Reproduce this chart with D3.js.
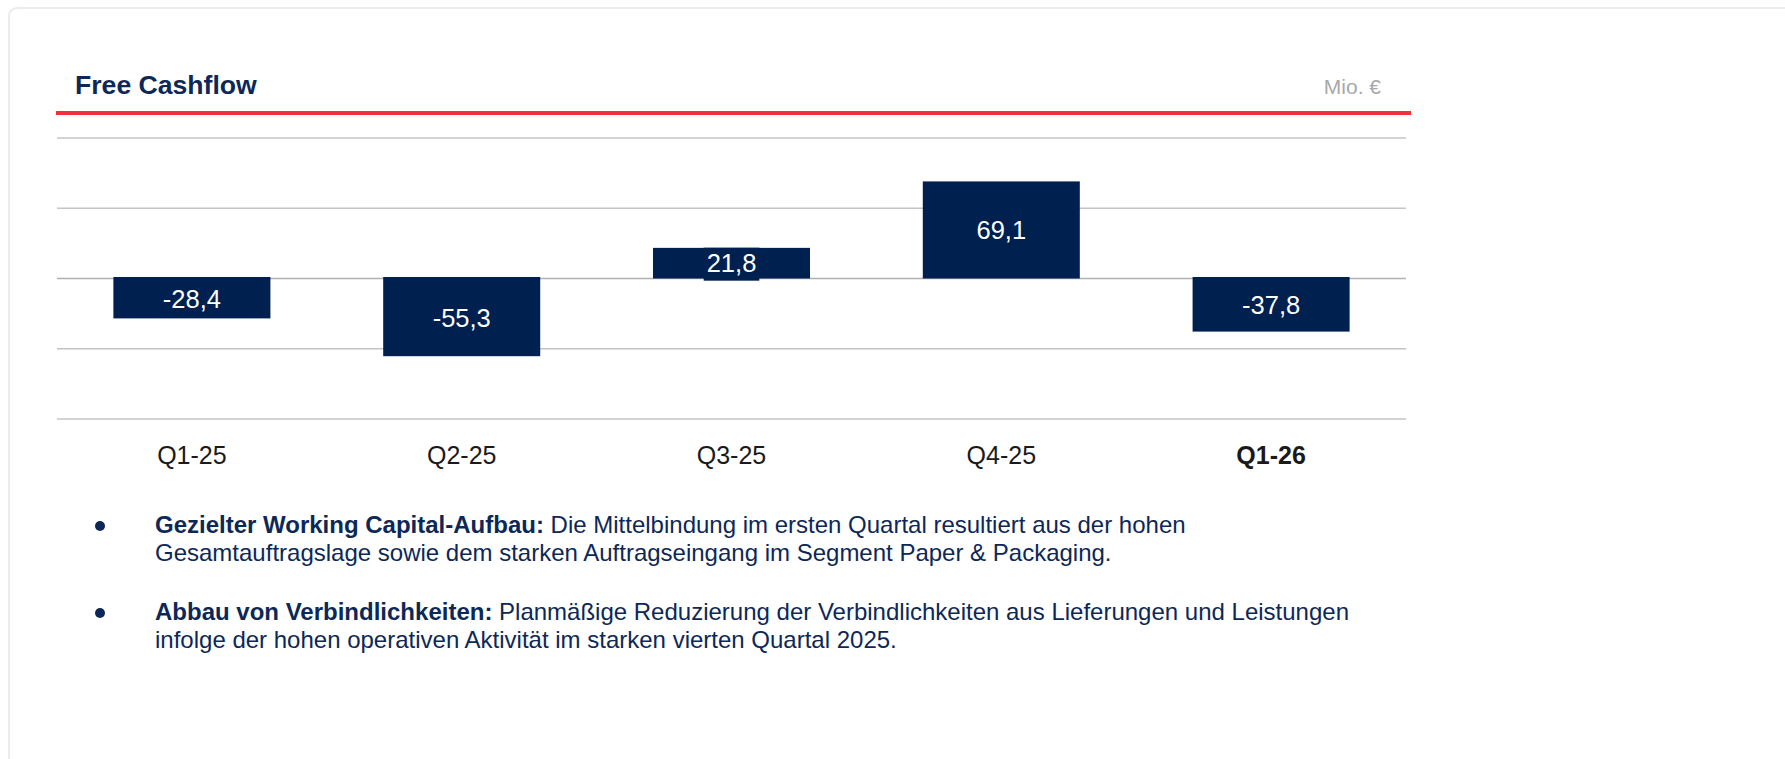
<!DOCTYPE html>
<html>
<head>
<meta charset="utf-8">
<script src="https://cdn.jsdelivr.net/npm/d3@7"></script>
<style>
  body { margin: 0; background: #fff; }
  svg { display: block; font-family: "Liberation Sans", Arial, sans-serif; }
</style>
</head>
<body>
<div class="graph"></div>
<script>
const quarters = ['Q1-25', 'Q2-25', 'Q3-25', 'Q4-25', 'Q1-26'];
const cashflow = [-28.4, -55.3, 21.8, 69.1, -37.8];
const gridTicks = [-100, -50, 0, 50, 100];
const currentQuarter = 'Q1-26';
const title = 'Free Cashflow';
const unit = 'Mio. €';
const bulletHeads = ['Gezielter Working Capital-Aufbau:', 'Abbau von Verbindlichkeiten:'];
const bulletLines = [
    [' Die Mittelbindung im ersten Quartal resultiert aus der hohen',
     'Gesamtauftragslage sowie dem starken Auftragseingang im Segment Paper & Packaging.'],
    [' Planmäßige Reduzierung der Verbindlichkeiten aus Lieferungen und Leistungen',
     'infolge der hohen operativen Aktivität im starken vierten Quartal 2025.']
];

const svgDim = { w: 1785, h: 759, left: 57, right: 1406, top: 138, bottom: 419 }
const navy = '#002050';
const textNavy = '#0d2857';

const de = d3.formatLocale({ decimal: ',', thousands: '.', grouping: [3], currency: ['', ' €'], minus: '-' });
const fmt = de.format('.1f');

const svg = d3.select('.graph').append('svg').attr('width', svgDim.w).attr('height', svgDim.h);

// card frame (only top + left edge visible)
svg.append('path')
    .attr('d', 'M9,760 L9,17 Q9,8 18,8 L1790,8')
    .attr('fill', 'none').attr('stroke', '#ececec').attr('stroke-width', 2);

// header
svg.append('text').attr('x', 75).attr('y', 94).text(title)
    .attr('font-size', 26.6).attr('font-weight', 'bold').attr('fill', textNavy);
svg.append('text').attr('x', 1381).attr('y', 94).text(unit)
    .attr('font-size', 21).attr('fill', '#a8a8a8').attr('text-anchor', 'end');
svg.append('line').attr('x1', 56).attr('x2', 1411).attr('y1', 113).attr('y2', 113)
    .attr('stroke', '#f0303a').attr('stroke-width', 4);

const xScale = d3.scaleBand()
    .domain(quarters)
    .range([svgDim.left, svgDim.right])
    .paddingInner(0.418)
    .paddingOuter(0.209);

const yScale = d3.scaleLinear()
    .domain([-100, 100])
    .range([svgDim.bottom, svgDim.top]);

// gridlines
svg.append('g').selectAll('line').data(gridTicks).join('line')
    .attr('x1', svgDim.left).attr('x2', svgDim.right)
    .attr('y1', d => yScale(d)).attr('y2', d => yScale(d))
    .attr('stroke', d => d === 0 ? '#b0b0b0' : '#c4c4c4').attr('stroke-width', 1.6);

const data = quarters.map((q, i) => ({ q, v: cashflow[i] }));
const y0 = yScale(0);

svg.append('g').selectAll('rect').data(data).join('rect')
    .attr('x', d => xScale(d.q))
    .attr('width', xScale.bandwidth())
    .attr('y', d => d.v >= 0 ? yScale(d.v) : y0 - 1.5)
    .attr('height', d => d.v >= 0 ? y0 - yScale(d.v) : yScale(d.v) - y0 + 1.5)
    .attr('fill', navy);

// value labels with a navy box behind them
const labels = svg.append('g').selectAll('g').data(data).join('g')
    .attr('transform', d => `translate(${xScale(d.q) + xScale.bandwidth() / 2},${(y0 + yScale(d.v)) / 2})`);
labels.append('rect').attr('class', 'lbg').attr('fill', navy);
labels.append('text').text(d => fmt(d.v))
    .attr('text-anchor', 'middle').attr('dy', '0.36em')
    .attr('font-size', 25.5).attr('fill', '#fff');
labels.each(function () {
    const g = d3.select(this);
    const bb = g.select('text').node().getBBox();
    g.select('rect').attr('x', bb.x - 3).attr('width', bb.width + 6).attr('y', -15.5).attr('height', 33);
});

// x axis
const xAxis = d3.axisBottom(xScale).tickSize(0).tickPadding(27);
const ax = svg.append('g').attr('transform', `translate(0,${svgDim.bottom})`).call(xAxis);
ax.select('.domain').remove();
ax.selectAll('text')
    .attr('font-size', 25).attr('fill', '#1a1a1a')
    .attr('font-family', '"Liberation Sans", Arial, sans-serif')
    .attr('font-weight', d => d === currentQuarter ? 'bold' : 'normal');

// bullet notes
const bulletTop = [533, 620];
bulletHeads.forEach((head, i) => {
    const by = bulletTop[i];
    svg.append('circle').attr('cx', 100).attr('cy', by - 7).attr('r', 5).attr('fill', textNavy);
    const t = svg.append('text').attr('font-size', 24).attr('fill', textNavy);
    const l1 = t.append('tspan').attr('x', 155).attr('y', by);
    l1.append('tspan').attr('font-weight', 'bold').text(head);
    l1.append('tspan').text(bulletLines[i][0]);
    t.append('tspan').attr('x', 155).attr('y', by + 28).text(bulletLines[i][1]);
});
</script>
</body>
</html>
